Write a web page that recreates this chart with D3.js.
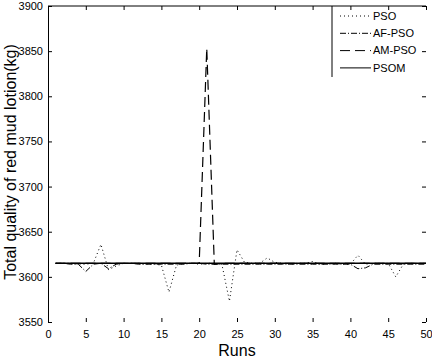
<!DOCTYPE html>
<html>
<head>
<meta charset="utf-8">
<script src="https://cdn.jsdelivr.net/npm/d3@7"></script>
<style>
  body { margin: 0; background: #fff; }
  svg { display: block; font-family: "Liberation Sans", Arial, sans-serif; }
  .axis text { font-size: 11px; fill: #000; }
  .axis line, .axis path { stroke: #000; }
</style>
</head>
<body>
<div id="chart"></div>
<script>
const runs = [1,2,3,4,5,6,7,8,9,10,11,12,13,14,15,16,17,18,19,20,21,22,23,24,25,26,27,28,29,30,31,32,33,34,35,36,37,38,39,40,41,42,43,44,45,46,47,48,49,50];
const pso = [3615,3615,3615,3614,3614,3615,3636,3608,3612,3615,3615,3615,3614,3614,3613,3583,3613,3615,3615,3614,3615,3615,3614,3573,3630,3616,3615,3615,3621,3616,3615,3614,3615,3615,3617,3614,3614,3615,3614,3614,3624,3614,3615,3615,3615,3600,3614,3615,3615,3615];
const afpso = [3615,3615,3614,3614,3606,3614,3615,3609,3614,3615,3615,3614,3614,3614,3614,3614,3614,3614,3615,3615,3614,3614,3614,3614,3614,3614,3614,3614,3614,3614,3614,3614,3614,3614,3614,3614,3614,3614,3614,3614,3609,3610,3614,3614,3614,3614,3614,3614,3614,3614];
const ampso = [3615,3615,3615,3615,3615,3615,3615,3615,3615,3615,3615,3615,3615,3615,3615,3615,3615,3615,3615,3615,3853,3614,3615,3615,3615,3615,3615,3615,3615,3615,3615,3615,3615,3615,3615,3615,3615,3615,3615,3615,3615,3615,3615,3615,3615,3615,3615,3615,3615,3615];
const psom = [3615,3615,3615,3615,3615,3615,3615,3615,3615,3615,3615,3615,3615,3615,3615,3615,3615,3615,3615,3615,3615,3615,3615,3615,3615,3615,3615,3615,3615,3615,3615,3615,3615,3615,3615,3615,3615,3615,3615,3615,3615,3615,3615,3615,3615,3615,3615,3615,3615,3615];
const seriesNames = ['PSO', 'AF-PSO', 'AM-PSO', 'PSOM'];
const xTicks = [0,5,10,15,20,25,30,35,40,45,50];
const yTicks = [3550,3600,3650,3700,3750,3800,3850,3900];

const series = [
  {name: seriesNames[0], values: pso, dash: '1,3', width: 1},
  {name: seriesNames[1], values: afpso, dash: '6,2,1,2', width: 1},
  {name: seriesNames[2], values: ampso, dash: '10,5', width: 1.2},
  {name: seriesNames[3], values: psom, dash: null, width: 1.6}
];

const margin = {top: 6, right: 6, bottom: 36, left: 48};
const width = 432 - margin.left - margin.right;
const height = 358 - margin.top - margin.bottom;

const svg = d3.select('#chart')
  .append('svg')
  .attr('width', 432)
  .attr('height', 358)
  .append('g')
  .attr('transform', `translate(${margin.left}, ${margin.top})`);

const x = d3.scaleLinear().domain([0, 50]).range([0, width]);
const y = d3.scaleLinear().domain([3550, 3900]).range([height, 0]);

// bottom axis, no domain line
svg.append('g')
  .attr('class', 'axis')
  .attr('transform', `translate(0, ${height})`)
  .call(d3.axisBottom(x).tickValues(xTicks).tickSize(-4).tickPadding(8).tickFormat(d3.format('d')))
  .call(g => g.select('.domain').remove());

svg.append('g')
  .attr('class', 'axis')
  .call(d3.axisLeft(y).tickValues(yTicks).tickSize(-4).tickPadding(5).tickSizeOuter(0).tickFormat(d3.format('d')));

// right ticks only
svg.append('g')
  .attr('class', 'axis')
  .attr('transform', `translate(${width}, 0)`)
  .call(d3.axisRight(y).tickValues(yTicks).tickSize(-4).tickFormat(''))
  .call(g => g.select('.domain').remove());

// top border
svg.append('line')
  .attr('x1', 0).attr('x2', width)
  .attr('y1', 0).attr('y2', 0)
  .attr('stroke', '#000');
svg.append('g')
  .attr('class', 'axis')
  .call(d3.axisTop(x).tickValues(xTicks).tickSize(-4).tickFormat(''))
  .call(g => g.select('.domain').remove());

const line = d3.line()
  .x((d, i) => x(runs[i]))
  .y(d => y(d));

svg.selectAll('.series')
  .data(series)
  .join('path')
  .attr('class', 'series')
  .attr('d', d => line(d.values))
  .attr('fill', 'none')
  .attr('stroke', '#000')
  .attr('stroke-width', d => d.width)
  .attr('stroke-dasharray', d => d.dash);

//legend
const lx = width - 94;
svg.append('line')
  .attr('x1', lx).attr('x2', lx)
  .attr('y1', 0).attr('y2', 71)
  .attr('stroke', '#000');
const legend = svg.selectAll('.legend')
  .data(series)
  .join('g')
  .attr('class', 'legend')
  .attr('transform', (d, i) => `translate(${lx}, ${10 + i * 17.3})`);
legend.append('line')
  .attr('x1', 8).attr('x2', 39)
  .attr('stroke', '#000')
  .attr('stroke-width', 1)
  .attr('stroke-dasharray', d => d.dash);
legend.append('text')
  .attr('x', 41)
  .attr('dy', '0.35em')
  .style('font-size', '11px')
  .text(d => d.name);

// axis titles
svg.append('text')
  .attr('x', width / 2)
  .attr('y', height + 34)
  .attr('text-anchor', 'middle')
  .style('font-size', '16px')
  .text('Runs');
svg.append('text')
  .attr('transform', `translate(${-32}, ${height / 2 - 2}) rotate(-90)`)
  .attr('text-anchor', 'middle')
  .style('font-size', '16px')
  .text('Total quality of red mud lotion(kg)');
</script>
</body>
</html>
